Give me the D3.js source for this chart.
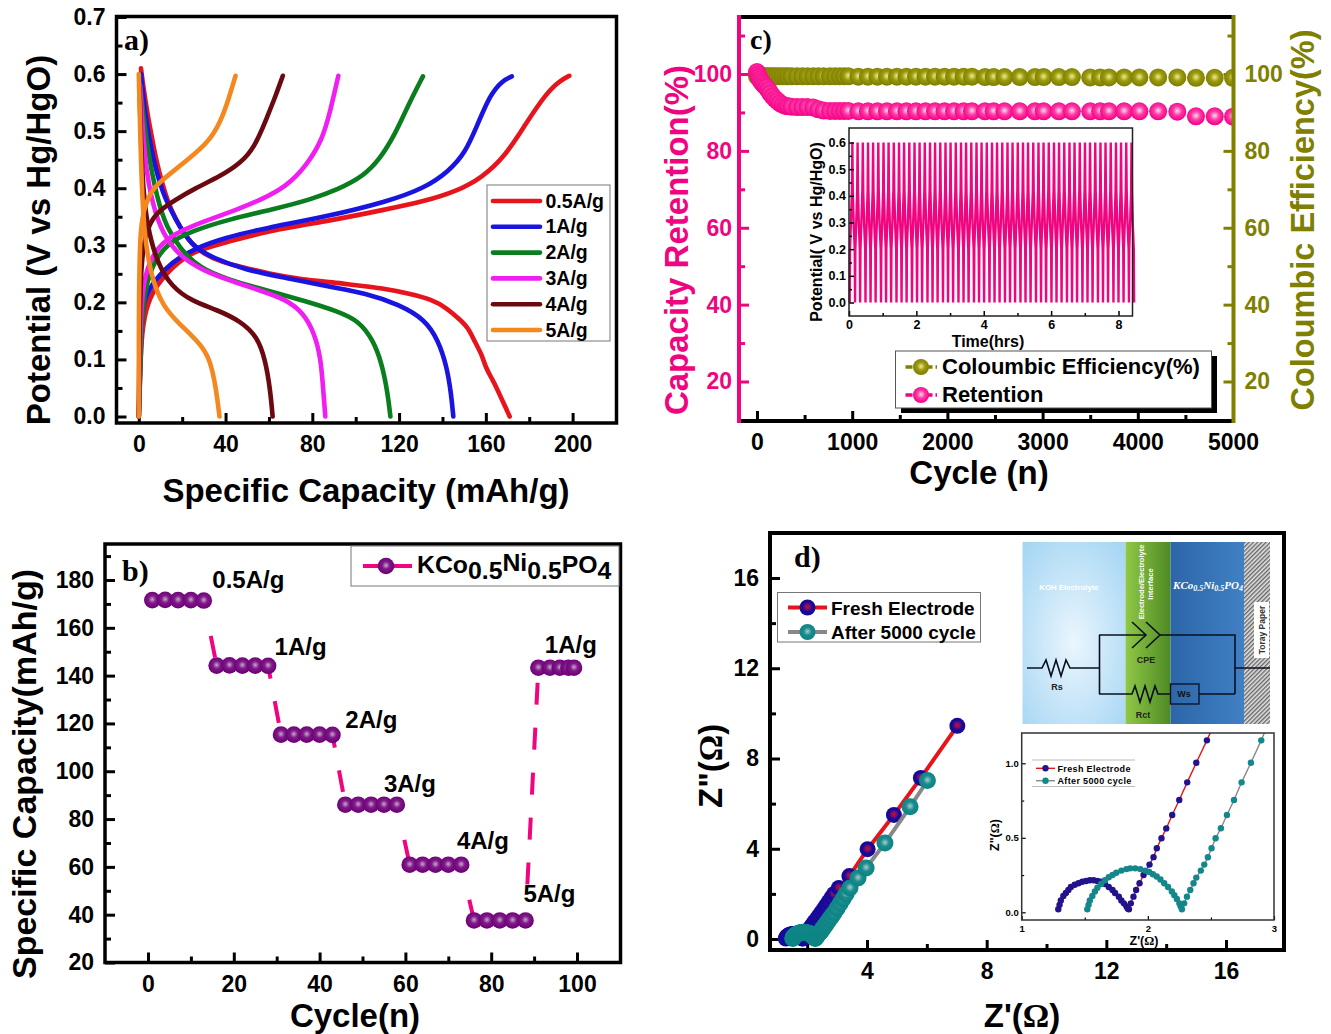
<!DOCTYPE html>
<html>
<head>
<meta charset="utf-8">
<script src="https://cdn.jsdelivr.net/npm/d3@7"></script>
<style>
  html, body { margin: 0; background: #fff; }
  text { font-family: "Liberation Sans", Arial, sans-serif; font-weight: bold; }
  .serif { font-family: "Liberation Serif", serif; }
</style>
</head>
<body>
<div id="chart"></div>
<script>
// a) charge / discharge curves
const rateLabels = ["0.5A/g", "1A/g", "2A/g", "3A/g", "4A/g", "5A/g"];

const dis05X = [1, 2, 4, 6, 8, 10, 13, 17, 21, 25, 30, 38, 50, 60, 75, 90, 100, 112, 125, 135, 142, 148, 152, 155, 158, 160, 163, 165, 168, 171];
const dis05Y = [.61, .58, .53, .49, .45, .42, .38, .345, .32, .30, .285, .27, .26, .25, .24, .235, .23, .225, .215, .205, .19, .17, .155, .13, .11, .085, .065, .05, .025, 0];
const chg05X = [0, .5, 1, 3, 8, 15, 25, 39.5, 58, 86.5, 113, 131.7, 146.7, 158, 169, 178.7, 188, 194, 198.5];
const chg05Y = [0, .06, .13, .19, .23, .26, .29, .304, .324, .342, .362, .377, .395, .418, .456, .515, .567, .588, .597];

const dis1X = [1, 2.8, 6.6, 11, 17, 24, 34, 49, 68, 86.5, 105, 120, 132, 138, 142, 144, 145];
const dis1Y = [.6, .53, .45, .39, .345, .30, .278, .257, .243, .228, .216, .196, .17, .134, .088, .04, 0];
const chg1X = [0, 1, 2, 7.5, 15, 26, 39.5, 58, 86.5, 115, 131.7, 143, 150.5, 156, 162, 167.5, 172];
const chg1Y = [0, .15, .205, .24, .27, .295, .313, .33, .35, .377, .40, .43, .462, .51, .564, .588, .596];

const dis2X = [.6, 3.8, 8.5, 13, 19, 28, 41, 58, 77, 92, 101.6, 108, 112, 114.8, 116];
const dis2Y = [.58, .47, .38, .33, .294, .26, .24, .222, .202, .184, .167, .134, .094, .04, 0];
const chg2X = [0, 1, 1.9, 5.6, 13, 24.5, 41, 64, 79, 92, 103.5, 111, 118.5, 124, 131];
const chg2Y = [0, .117, .205, .263, .304, .325, .345, .365, .38, .398, .421, .45, .497, .544, .596];

const dis3X = [.6, 2.8, 6.6, 11, 19, 30, 43, 56.5, 68, 76, 81, 84, 85, 86];
const dis3Y = [.58, .44, .368, .32, .28, .255, .237, .22, .205, .181, .146, .1, .047, 0];
const chg3X = [0, .6, 1.9, 6.6, 15, 30, 45, 56.5, 68, 77, 84.7, 88.4, 92];
const chg3Y = [0, .15, .24, .287, .319, .342, .362, .38, .403, .438, .485, .537, .597];

const dis4X = [.3, 1.5, 3.8, 8.5, 15, 24.5, 36, 47, 54.6, 58.3, 60.6, 61.7];
const dis4Y = [.58, .415, .333, .269, .228, .202, .187, .167, .14, .1, .047, 0];
const chg4X = [0, .3, 1, 2.8, 7.5, 17, 26, 37.6, 47, 53.6, 59.3, 63, 66.4];
const chg4Y = [0, .15, .263, .32, .357, .38, .40, .421, .444, .473, .526, .561, .597];

const dis5X = [0, 1, 2.3, 5.6, 11, 19, 28, 33, 35.7, 37.2];
const dis5Y = [.6, .44, .322, .246, .193, .161, .129, .1, .047, 0];
const chg5X = [0, 0, .6, 1.9, 5.6, 13, 22.6, 32, 37.6, 41.4, 44.6];
const chg5Y = [0, .205, .322, .357, .398, .421, .45, .48, .515, .556, .597];

// b) rate capability
const rateCycle = [1, 4, 7, 10, 13, 16, 19, 22, 25, 28, 31, 34, 37, 40, 43, 46, 49, 52, 55, 58, 61, 64, 67, 70, 73, 76, 79, 82, 85, 88, 91, 93.7, 96, 98, 99.3];
const rateCapacity = [171.6, 171.7, 171.6, 171.6, 171.4, 144.2, 144.3, 144.2, 144.2, 144.1, 115.3, 115.3, 115.3, 115.3, 115.2, 86, 86, 86, 86, 86, 60.9, 60.9, 60.9, 60.9, 60.9, 37.6, 37.6, 37.6, 37.6, 37.6, 143.3, 143.3, 143.3, 143.3, 143.3];
const rateNotes = ["0.5A/g", "1A/g", "2A/g", "3A/g", "4A/g", "5A/g", "1A/g"];
const rateNoteX = [15, 29.5, 46, 55, 72, 87.5, 92.5];
const rateNoteY = [176.5, 148.5, 118, 91.5, 67.5, 45.5, 149.5];

// c) cycling
const cycleN = [0, 10, 20, 30, 45, 60, 80, 100, 120, 140, 165, 190, 215, 240, 270, 300, 330, 365, 420, 475, 530, 590, 645, 700, 767, 820, 870, 915, 960, 1065, 1165, 1265, 1365, 1470, 1570, 1670, 1770, 1870, 1970, 2070, 2170, 2258, 2395, 2486, 2600, 2760, 2920, 3011, 3171, 3308, 3500, 3605, 3697, 3857, 4017, 4214, 4415, 4611, 4808, 5000];
const retention = [100.5, 99.8, 99.2, 98.6, 98, 97.5, 97, 96.5, 95.8, 95, 94.2, 93.5, 93, 92.4, 92, 91.7, 91.6, 91.5, 91.4, 91.4, 91.4, 91.3, 90.8, 90.5, 90.4, 90.4, 90.4, 90.4, 90.4, 90.3, 90.3, 90.3, 90.3, 90.3, 90.3, 90.3, 90.3, 90.3, 90.3, 90.3, 90.3, 90.3, 90.3, 90.3, 90.3, 90.3, 90.3, 90.3, 90.3, 90.3, 90.3, 90.3, 90.3, 90.3, 90.3, 90.3, 90.2, 89, 89, 88.9];
const efficiency = [99.4, 99.4, 99.4, 99.4, 99.4, 99.4, 99.4, 99.4, 99.4, 99.4, 99.4, 99.4, 99.4, 99.4, 99.4, 99.4, 99.4, 99.4, 99.4, 99.4, 99.4, 99.4, 99.4, 99.4, 99.4, 99.4, 99.4, 99.4, 99.4, 99.3, 99.3, 99.3, 99.3, 99.3, 99.3, 99.3, 99.3, 99.3, 99.3, 99.3, 99.3, 99.3, 99.2, 99.2, 99.2, 99.2, 99.2, 99.2, 99.2, 99.2, 99.1, 99.1, 99.1, 99.1, 99.1, 99.1, 99.1, 99, 99, 99];

// c) inset: start of each galvanostatic cycle, hours
const waveStarts = [.02, .18, .33, .49, .64, .79, .95, 1.1, 1.25, 1.41, 1.56, 1.71, 1.87, 2.02, 2.17, 2.33, 2.48, 2.63, 2.79, 2.94, 3.09, 3.25, 3.4, 3.55, 3.71, 3.86, 4.01, 4.17, 4.32, 4.47, 4.63, 4.78, 4.93, 5.09, 5.24, 5.39, 5.55, 5.7, 5.85, 6.01, 6.16, 6.31, 6.47, 6.62, 6.77, 6.93, 7.08, 7.23, 7.39, 7.54, 7.69, 7.85, 8, 8.15, 8.31];
const waveFraction = [0, .06, .25, .42, .5, .58, .75, .94, 1];
const wavePotential = [0, .2, .31, .42, .6, .42, .29, .2, 0];

// d) impedance
const freshX = [1.29, 1.30, 1.31, 1.33, 1.35, 1.37, 1.39, 1.42, 1.45, 1.48, 1.51, 1.54, 1.57, 1.60, 1.63, 1.66, 1.69, 1.72, 1.74, 1.77, 1.79, 1.81, 1.83, 1.84, 1.85, 1.865, 1.886, 1.907, 1.934, 1.966, 2.013, 2.045, 2.071, 2.108, 2.146, 2.193, 2.249, 2.312, 2.384, 2.468, 2.55, 2.63, 2.72, 2.81, 2.9, 3.06, 3.41, 4.02, 4.9, 5.8, 7.02];
const freshY = [.02, .05, .08, .11, .13, .15, .17, .185, .195, .205, .21, .215, .215, .21, .205, .19, .17, .15, .13, .105, .08, .06, .04, .025, .02, .06, .105, .15, .195, .25, .32, .37, .43, .497, .563, .653, .754, .872, 1.004, 1.154, 1.31, 1.47, 1.64, 1.82, 2, 2.26, 2.79, 3.98, 5.5, 7.14, 9.45];
const agedX = [1.52, 1.53, 1.54, 1.56, 1.58, 1.60, 1.63, 1.66, 1.69, 1.72, 1.75, 1.79, 1.83, 1.86, 1.90, 1.94, 1.98, 2.01, 2.04, 2.07, 2.10, 2.13, 2.16, 2.19, 2.21, 2.23, 2.25, 2.26, 2.27, 2.288, 2.31, 2.336, 2.362, 2.384, 2.42, 2.447, 2.476, 2.505, 2.537, 2.579, 2.627, 2.683, 2.743, 2.817, 2.899, 3.0, 3.1, 3.2, 3.3, 3.43, 3.7, 3.97, 4.6, 5.44, 6.02];
const agedY = [.02, .05, .08, .11, .14, .165, .19, .215, .235, .25, .265, .28, .29, .295, .295, .29, .28, .27, .255, .24, .22, .195, .17, .14, .115, .09, .06, .04, .02, .06, .105, .15, .195, .233, .28, .32, .369, .43, .497, .564, .653, .754, .872, 1.004, 1.154, 1.36, 1.57, 1.78, 1.99, 2.26, 2.7, 3.15, 4.25, 5.86, 7.02];

const RED = "#e8141c", BLUE = "#1a14e0", GREEN = "#0a7d1e", MAGENTA = "#f01ef0", MAROON = "#6a0a10", ORANGE = "#f5871f";
const PINK = "#f0047f", OLIVE = "#808000";

const svg = d3.select("#chart").append("svg")
  .attr("width", 1331).attr("height", 1034)
  .style("display", "block");
const defs = svg.append("defs");

function sphereGradient(id, stops) {
  const g = defs.append("radialGradient").attr("id", id).attr("cx", "50%").attr("cy", "46%").attr("r", "50%");
  stops.forEach(s => g.append("stop").attr("offset", s[0]).attr("stop-color", s[1]));
}
sphereGradient("ballPurple", [["0%", "#c9a8cc"], ["45%", "#7f1a88"], ["100%", "#6e0078"]]);
sphereGradient("ballPink", [["0%", "#fbdcee"], ["50%", "#ff3aa4"], ["100%", "#f5048a"]]);
sphereGradient("ballOlive", [["0%", "#eeee88"], ["50%", "#9a9a10"], ["100%", "#808000"]]);
sphereGradient("ballFresh", [["0%", "#c01040"], ["35%", "#7a0c68"], ["60%", "#1a0a94"], ["100%", "#140aa0"]]);
sphereGradient("ballTeal", [["0%", "#a8cccc"], ["50%", "#1a8c8c"], ["100%", "#0c8484"]]);

// inward ticks: one axis for labelled majors, one for unlabelled minors
function ticks(g, make, scale, pos, majors, minors, o) {
  const isX = make === d3.axisBottom || make === d3.axisTop;
  const place = isX ? `translate(0,${pos})` : `translate(${pos},0)`;
  const color = o.color || "#000";
  const maj = g.append("g").attr("transform", place)
    .call(make(scale).tickValues(majors).tickSize(-o.major).tickPadding(o.pad).tickFormat(o.format || d3.format("d")));
  maj.select(".domain").remove();
  maj.selectAll("line").attr("stroke", color).attr("stroke-width", o.width);
  maj.selectAll("text").attr("fill", o.textColor || color).style("font-size", o.font + "px");
  const min = g.append("g").attr("transform", place)
    .call(make(scale).tickValues(minors).tickSize(-o.minor).tickFormat(""));
  min.select(".domain").remove();
  min.selectAll("line").attr("stroke", color).attr("stroke-width", o.width);
}

function label(g, str, x, y, size, o = {}) {
  const t = g.append("text").attr("x", x).attr("y", y).text(str)
    .style("font-size", size + "px")
    .attr("text-anchor", o.anchor || "middle")
    .attr("fill", o.fill || "#000");
  if (o.rotate) t.attr("transform", `rotate(-90,${x},${y})`);
  if (o.cls) t.attr("class", o.cls);
  return t;
}

function frame(g, x0, y0, x1, y1, w) {
  g.append("rect").attr("x", x0).attr("y", y0).attr("width", x1 - x0).attr("height", y1 - y0)
    .attr("fill", "none").attr("stroke", "#000").attr("stroke-width", w);
}

function balls(g, xs, ys, x, y, r, fill) {
  g.append("g").selectAll("circle").data(xs).join("circle")
    .attr("cx", d => x(d))
    .attr("cy", (d, i) => y(ys[i]))
    .attr("r", r)
    .attr("fill", `url(#${fill})`);
}

// ---------- panel a ----------
(function () {
  const g = svg.append("g");
  const x = d3.scaleLinear().domain([0, 200]).range([138.8, 572.6]);
  const y = d3.scaleLinear().domain([0, .7]).range([416.5, 17]);
  const opts = { major: 10, minor: 6, width: 3, font: 23, pad: 11 };
  ticks(g, d3.axisBottom, x, 423, [0, 40, 80, 120, 160, 200], [20, 60, 100, 140, 180], { ...opts, pad: 13 });
  ticks(g, d3.axisLeft, y, 116.5, [0, .1, .2, .3, .4, .5, .6, .7], [.05, .15, .25, .35, .45, .55, .65],
    { ...opts, format: d3.format(".1f") });

  const curve = d3.line().curve(d3.curveBasis);
  const series = [
    [dis05X, dis05Y, chg05X, chg05Y, RED],
    [dis1X, dis1Y, chg1X, chg1Y, BLUE],
    [dis2X, dis2Y, chg2X, chg2Y, GREEN],
    [dis3X, dis3Y, chg3X, chg3Y, MAGENTA],
    [dis4X, dis4Y, chg4X, chg4Y, MAROON],
    [dis5X, dis5Y, chg5X, chg5Y, ORANGE]
  ];
  series.forEach(s => {
    [[s[0], s[1]], [s[2], s[3]]].forEach(c => {
      g.append("path")
        .attr("d", curve(c[0].map((v, i) => [x(v), y(c[1][i])])))
        .attr("fill", "none").attr("stroke", s[4]).attr("stroke-width", 4.6)
        .attr("stroke-linecap", "round");
    });
  });
  frame(g, 116.5, 16.5, 616.5, 423, 3.5);

  g.append("rect").attr("x", 487).attr("y", 185).attr("width", 123).attr("height", 156)
    .attr("fill", "#fff").attr("stroke", "#777").attr("stroke-width", 1);
  rateLabels.forEach((r, i) => {
    const ly = 201 + i * 25.8;
    g.append("line").attr("x1", 493).attr("x2", 540).attr("y1", ly).attr("y2", ly)
      .attr("stroke", series[i][4]).attr("stroke-width", 4.6).attr("stroke-linecap", "round");
    label(g, r, 545.5, ly + 6.5, 19.5, { anchor: "start" });
  });

  label(g, "a)", 124, 50, 30, { anchor: "start", cls: "serif" });
  label(g, "Potential (V vs Hg/HgO)", 50, 240, 33, { rotate: true });
  label(g, "Specific Capacity (mAh/g)", 366, 502, 33);
})();

// ---------- panel b ----------
(function () {
  const g = svg.append("g");
  const x = d3.scaleLinear().domain([0, 100]).range([148, 577]);
  const y = d3.scaleLinear().domain([20, 180]).range([962.5, 580]);
  const opts = { major: 10, minor: 6, width: 3, font: 23, pad: 11 };
  ticks(g, d3.axisBottom, x, 962.5, [0, 20, 40, 60, 80, 100], [10, 30, 50, 70, 90], { ...opts, pad: 13 });
  ticks(g, d3.axisLeft, y, 105, [20, 40, 60, 80, 100, 120, 140, 160, 180], [30, 50, 70, 90, 110, 130, 150, 170, 190], opts);

  // each step is dashed on its own, so the gaps start the same way after every plateau;
  // only the steps leaving cycles 28 and 43 show a stub under the last ball
  const dashRepeat = "22 23 22 23 22 23 22 23 22 23 22 23";
  d3.pairs(d3.zip(rateCycle, rateCapacity)).forEach(p => {
    const stub = p[0][0] === 28 || p[0][0] === 43 ? 13 : 0;
    g.append("line")
      .attr("x1", x(p[0][0])).attr("y1", y(p[0][1]))
      .attr("x2", x(p[1][0])).attr("y2", y(p[1][1]))
      .attr("stroke", PINK).attr("stroke-width", 4)
      .attr("stroke-dasharray", `${stub} ${36 - stub} ${dashRepeat}`);
  });
  balls(g, rateCycle, rateCapacity, x, y, 8.3, "ballPurple");
  frame(g, 105, 544, 620.5, 962.5, 3.5);

  rateNotes.forEach((n, i) => label(g, n, x(rateNoteX[i]), y(rateNoteY[i]) , 24, { anchor: "start" }));

  g.append("rect").attr("x", 351).attr("y", 546).attr("width", 268).attr("height", 40)
    .attr("fill", "#fff").attr("stroke", "#777").attr("stroke-width", 1);
  g.append("line").attr("x1", 363).attr("x2", 412).attr("y1", 566).attr("y2", 566)
    .attr("stroke", PINK).attr("stroke-width", 4);
  g.append("circle").attr("cx", 386).attr("cy", 566).attr("r", 8.3).attr("fill", "url(#ballPurple)");
  const t = label(g, "", 417, 573, 24.8, { anchor: "start" });
  t.append("tspan").text("KCo");
  t.append("tspan").attr("dy", 6).text("0.5");
  t.append("tspan").attr("dy", -8).text("Ni");
  t.append("tspan").attr("dy", 8).text("0.5");
  t.append("tspan").attr("dy", -6).text("PO");
  t.append("tspan").attr("dy", 6).text("4");

  label(g, "b)", 122, 581, 30, { anchor: "start", cls: "serif" });
  label(g, "Specific Capacity(mAh/g)", 36, 774, 34, { rotate: true });
  label(g, "Cycle(n)", 355, 1027, 33);
})();

// ---------- panel c ----------
(function () {
  const g = svg.append("g");
  const x = d3.scaleLinear().domain([0, 5000]).range([757, 1233]);
  const y = d3.scaleLinear().domain([20, 100]).range([381.5, 74]);
  const opts = { major: 10, minor: 6, width: 3, font: 23, pad: 7 };
  ticks(g, d3.axisBottom, x, 421, [0, 1000, 2000, 3000, 4000, 5000], [500, 1500, 2500, 3500, 4500], { ...opts, pad: 13 });
  ticks(g, d3.axisLeft, y, 739, [20, 40, 60, 80, 100], [30, 50, 70, 90, 110], { ...opts, color: PINK });
  ticks(g, d3.axisRight, y, 1233.5, [20, 40, 60, 80, 100], [30, 50, 70, 90, 110], { ...opts, pad: 11, color: OLIVE });

  const clip = defs.append("clipPath").attr("id", "clipC");
  clip.append("rect").attr("x", 739).attr("y", 16).attr("width", 494.5).attr("height", 405);
  const data = g.append("g").attr("clip-path", "url(#clipC)");
  balls(data, cycleN, efficiency, x, y, 9, "ballOlive");
  balls(data, cycleN, retention, x, y, 9, "ballPink");

  g.append("line").attr("x1", 739).attr("x2", 1233.5).attr("y1", 17).attr("y2", 17).attr("stroke", "#000").attr("stroke-width", 4);
  g.append("line").attr("x1", 739).attr("x2", 1233.5).attr("y1", 421).attr("y2", 421).attr("stroke", "#000").attr("stroke-width", 4);
  g.append("line").attr("x1", 739).attr("x2", 739).attr("y1", 15).attr("y2", 423).attr("stroke", PINK).attr("stroke-width", 4);
  g.append("line").attr("x1", 1233.5).attr("x2", 1233.5).attr("y1", 15).attr("y2", 423).attr("stroke", OLIVE).attr("stroke-width", 4);

  // inset
  const ix = d3.scaleLinear().domain([0, 8]).range([849, 1118.5]);
  const iy = d3.scaleLinear().domain([0, .6]).range([302.5, 142.5]);
  const wave = [];
  waveStarts.forEach((s, i) => {
    const end = i + 1 < waveStarts.length ? waveStarts[i + 1] : s + .153;
    waveFraction.forEach((f, j) => wave.push([ix(s + f * (end - s)), iy(wavePotential[j])]));
  });
  g.append("path").attr("d", d3.line()(wave)).attr("fill", "none").attr("stroke", PINK)
    .attr("stroke-width", 2.4).attr("stroke-linejoin", "bevel");
  const small = { major: 5, minor: 3, width: 1.5, font: 12.5, pad: 3 };
  ticks(g, d3.axisBottom, ix, 316, [0, 2, 4, 6, 8], [1, 3, 5, 7], { ...small, pad: 4 });
  ticks(g, d3.axisLeft, iy, 849, [0, .1, .2, .3, .4, .5, .6], [.05, .15, .25, .35, .45, .55], { ...small, format: d3.format(".1f") });
  g.append("rect").attr("x", 849).attr("y", 128).attr("width", 283.5).attr("height", 188)
    .attr("fill", "none").attr("stroke", "#222").attr("stroke-width", 1.5);
  label(g, "Potential( V vs Hg/HgO)", 822, 232, 16, { rotate: true });
  label(g, "Time(hrs)", 988, 347, 16);

  // legend with its block shadow
  g.append("rect").attr("x", 901).attr("y", 356).attr("width", 316).attr("height", 57).attr("fill", "#000");
  g.append("rect").attr("x", 895.5).attr("y", 351).attr("width", 316).attr("height", 57)
    .attr("fill", "#fff").attr("stroke", "#555").attr("stroke-width", 1);
  [[367, OLIVE, "ballOlive", "Coloumbic Efficiency(%)"], [395, PINK, "ballPink", "Retention"]].forEach(e => {
    g.append("line").attr("x1", 905.5).attr("x2", 937).attr("y1", e[0]).attr("y2", e[0])
      .attr("stroke", e[1]).attr("stroke-width", 3.5).attr("stroke-dasharray", "7 3");
    g.append("circle").attr("cx", 921).attr("cy", e[0]).attr("r", 8).attr("fill", `url(#${e[2]})`);
    label(g, e[3], 942, e[0] + 7, 22, { anchor: "start" });
  });

  label(g, "c)", 750, 49, 28, { anchor: "start", cls: "serif" });
  label(g, "Capacity Retention(%)", 688, 240, 33, { rotate: true, fill: PINK });
  label(g, "Coloumbic Efficiency(%)", 1314, 220, 32.5, { rotate: true, fill: OLIVE });
  label(g, "Cycle (n)", 979, 484, 33);
})();

// ---------- panel d ----------
(function () {
  const g = svg.append("g");
  const x = d3.scaleLinear().domain([4, 16]).range([867, 1226]);
  const y = d3.scaleLinear().domain([0, 16]).range([939, 578]);
  const opts = { major: 10, minor: 6, width: 3, font: 23, pad: 11 };
  ticks(g, d3.axisBottom, x, 950, [4, 8, 12, 16], [2, 6, 10, 14], { ...opts, pad: 13 });
  ticks(g, d3.axisLeft, y, 770, [0, 4, 8, 12, 16], [2, 6, 10, 14], opts);

  const line = d3.line();
  g.append("path").attr("d", line(freshX.map((v, i) => [x(v), y(freshY[i])])))
    .attr("fill", "none").attr("stroke", "#e8141c").attr("stroke-width", 4);
  balls(g, freshX, freshY, x, y, 8, "ballFresh");
  g.append("path").attr("d", line(agedX.map((v, i) => [x(v), y(agedY[i])])))
    .attr("fill", "none").attr("stroke", "#888").attr("stroke-width", 4);
  balls(g, agedX, agedY, x, y, 8.5, "ballTeal");
  frame(g, 770, 533, 1284, 950, 4);

  g.append("rect").attr("x", 777.5).attr("y", 592.5).attr("width", 203).attr("height", 49.5)
    .attr("fill", "#fff").attr("stroke", "#777").attr("stroke-width", 1);
  [[607.5, "#e8141c", "ballFresh", "Fresh Electrode"], [632, "#888", "ballTeal", "After 5000 cycle"]].forEach(e => {
    g.append("line").attr("x1", 788).attr("x2", 827).attr("y1", e[0]).attr("y2", e[0]).attr("stroke", e[1]).attr("stroke-width", 4);
    g.append("circle").attr("cx", 807.5).attr("cy", e[0]).attr("r", 8).attr("fill", `url(#${e[2]})`);
    label(g, e[3], 831, e[0] + 7, 19, { anchor: "start" });
  });

  label(g, "d)", 794, 567, 30, { anchor: "start", cls: "serif" });
  const zy = label(g, 'Z"(', 722, 808, 33, { rotate: true, anchor: "start" });
  zy.append("tspan").attr("class", "serif").text("Ω");
  zy.append("tspan").text(")");
  const zx = label(g, "Z'(", 1022, 1027, 33);
  zx.append("tspan").attr("class", "serif").text("Ω");
  zx.append("tspan").text(")");

  // inset zoom of the semicircles
  const ix = d3.scaleLinear().domain([1, 3]).range([1021.7, 1274]);
  const iy = d3.scaleLinear().domain([0, 1]).range([912.3, 763.3]);
  g.append("rect").attr("x", 1021.7).attr("y", 733).attr("width", 252.3).attr("height", 187).attr("fill", "#fff");
  const clip = defs.append("clipPath").attr("id", "clipD");
  clip.append("rect").attr("x", 1021.7).attr("y", 733).attr("width", 252.3).attr("height", 187);
  const data = g.append("g").attr("clip-path", "url(#clipD)");
  data.append("path").attr("d", line(freshX.map((v, i) => [ix(v), iy(freshY[i])])))
    .attr("fill", "none").attr("stroke", "#e8141c").attr("stroke-width", 1.4);
  data.append("path").attr("d", line(agedX.map((v, i) => [ix(v), iy(agedY[i])])))
    .attr("fill", "none").attr("stroke", "#888").attr("stroke-width", 1.4);
  data.append("g").selectAll("circle").data(freshX.map((v, i) => [v, freshY[i]]).filter(p => p[1] < 1.2)).join("circle")
    .attr("cx", d => ix(d[0])).attr("cy", d => iy(d[1])).attr("r", 3.2).attr("fill", "#22128c");
  data.append("g").selectAll("circle").data(agedX.map((v, i) => [v, agedY[i]]).filter(p => p[1] < 1.2)).join("circle")
    .attr("cx", d => ix(d[0])).attr("cy", d => iy(d[1])).attr("r", 3.2).attr("fill", "#14878a");
  const small = { major: 4, minor: 2.5, width: 1.2, font: 9.5, pad: 5 };
  ticks(g, d3.axisBottom, ix, 920, [1, 2, 3], [1.5, 2.5], small);
  ticks(g, d3.axisLeft, iy, 1021.7, [0, .5, 1], [.25, .75], { ...small, pad: 3, format: d3.format(".1f") });
  g.append("rect").attr("x", 1021.7).attr("y", 733).attr("width", 252.3).attr("height", 187)
    .attr("fill", "none").attr("stroke", "#333").attr("stroke-width", 1.5);
  g.append("line").attr("x1", 1032).attr("x2", 1135).attr("y1", 760).attr("y2", 760).attr("stroke", "#bbb");
  g.append("line").attr("x1", 1032).attr("x2", 1135).attr("y1", 786.5).attr("y2", 786.5).attr("stroke", "#bbb");
  [[768.3, "#e8141c", "#22128c", "Fresh Electrode"], [780.7, "#888", "#14878a", "After 5000 cycle"]].forEach(e => {
    g.append("line").attr("x1", 1036).attr("x2", 1055).attr("y1", e[0]).attr("y2", e[0]).attr("stroke", e[1]).attr("stroke-width", 1.4);
    g.append("circle").attr("cx", 1045.5).attr("cy", e[0]).attr("r", 3.2).attr("fill", e[2]);
    label(g, e[3], 1057.5, e[0] + 3.2, 9, { anchor: "start" }).style("letter-spacing", ".35px");
  });
  const zy2 = label(g, 'Z"(', 999, 835, 12.5, { rotate: true });
  zy2.append("tspan").attr("class", "serif").text("Ω");
  zy2.append("tspan").text(")");
  const zx2 = label(g, "Z'(", 1144, 945, 12.5);
  zx2.append("tspan").attr("class", "serif").text("Ω");
  zx2.append("tspan").text(")");

  // circuit schematic
  const koh = defs.append("radialGradient").attr("id", "kohFill").attr("cx", "50%").attr("cy", "55%").attr("r", "70%");
  koh.append("stop").attr("offset", "0%").attr("stop-color", "#eaf6fd");
  koh.append("stop").attr("offset", "100%").attr("stop-color", "#a6d6f4");
  const gr = defs.append("linearGradient").attr("id", "greenFill");
  gr.append("stop").attr("offset", "0%").attr("stop-color", "#90c846");
  gr.append("stop").attr("offset", "100%").attr("stop-color", "#4e8a24");
  const bl = defs.append("linearGradient").attr("id", "blueFill");
  bl.append("stop").attr("offset", "0%").attr("stop-color", "#2c66a8");
  bl.append("stop").attr("offset", "100%").attr("stop-color", "#4080c4");
  const hatch = defs.append("pattern").attr("id", "hatch").attr("width", 3).attr("height", 3)
    .attr("patternUnits", "userSpaceOnUse").attr("patternTransform", "rotate(45)");
  hatch.append("rect").attr("width", 3).attr("height", 3).attr("fill", "#e4e4e4");
  hatch.append("rect").attr("width", 1.4).attr("height", 3).attr("fill", "#666");

  const s = g.append("g");
  s.append("rect").attr("x", 1022.5).attr("y", 542).attr("width", 103).attr("height", 182).attr("fill", "url(#kohFill)");
  s.append("rect").attr("x", 1125.5).attr("y", 542).attr("width", 45).attr("height", 182).attr("fill", "url(#greenFill)");
  s.append("rect").attr("x", 1170.5).attr("y", 542).attr("width", 73.5).attr("height", 182).attr("fill", "url(#blueFill)");
  s.append("rect").attr("x", 1244).attr("y", 542).attr("width", 26).attr("height", 182).attr("fill", "url(#hatch)");
  s.append("rect").attr("x", 1254).attr("y", 602).attr("width", 15).attr("height", 56).attr("fill", "#fff");
  label(s, "KOH Electrolyte", 1069, 590, 7.8, { fill: "#fff" });
  label(s, "Electrode/Electrolyte", 1144, 582, 7.5, { fill: "#fff", rotate: true });
  label(s, "Interface", 1153, 584, 7.5, { fill: "#fff", rotate: true });
  const kc = label(s, "", 1208, 589, 11, { fill: "#fff", cls: "serif" }).style("font-style", "italic");
  kc.append("tspan").text("KCo");
  kc.append("tspan").attr("dy", 2).style("font-size", "8px").text("0.5");
  kc.append("tspan").attr("dy", -2).text("Ni");
  kc.append("tspan").attr("dy", 2).style("font-size", "8px").text("0.5");
  kc.append("tspan").attr("dy", -2).text("PO");
  kc.append("tspan").attr("dy", 2).style("font-size", "8px").text("4");
  label(s, "Toray Paper", 1265, 630, 8.5, { fill: "#333", rotate: true });

  const wire = [
    "M1027,668H1042l4,-8l5,16l5,-16l5,16l5,-16l4,8H1099",
    "M1099.5,635V694",
    "M1099,635H1146",
    "M1132,622L1146,635L1132,648",
    "M1146,622L1160,635L1146,648",
    "M1160,635H1235V694",
    "M1235,668H1270",
    "M1099,694H1132l3,-8l5,16l5,-16l5,16l5,-16l3,8H1170.5",
    "M1199,694H1235"
  ];
  s.selectAll("path.wire").data(wire).join("path").attr("class", "wire").attr("d", d => d)
    .attr("fill", "none").attr("stroke", "#0a1020").attr("stroke-width", 1.6);
  s.append("rect").attr("x", 1170.5).attr("y", 684).attr("width", 28.5).attr("height", 20)
    .attr("fill", "none").attr("stroke", "#0a1020").attr("stroke-width", 1.3);
  label(s, "Rs", 1057, 690, 9, { fill: "#222" });
  label(s, "CPE", 1146, 663, 9, { fill: "#222" });
  label(s, "Ws", 1184, 697, 9, { fill: "#111" });
  label(s, "Rct", 1143, 718, 9, { fill: "#222" });
})();
</script>
</body>
</html>
